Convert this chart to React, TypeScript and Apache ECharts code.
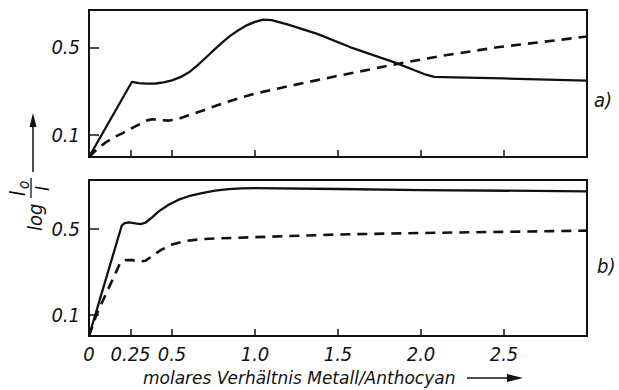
import React, { useEffect, useRef } from "react";
import * as echarts from "echarts";

// x values: molar ratio metal/anthocyan
const topSolidX = [0, 0.258, 0.3, 0.35, 0.4, 0.45, 0.5, 0.55, 0.6, 0.65, 0.7, 0.75, 0.8, 0.85, 0.9, 0.95, 1.0, 1.05, 1.1, 1.2, 1.375, 1.576, 1.84, 2.03, 2.08, 2.2, 2.5, 3.0];
const topSolidY = [0, 0.342, 0.337, 0.334, 0.335, 0.34, 0.349, 0.364, 0.385, 0.415, 0.45, 0.486, 0.52, 0.552, 0.578, 0.6, 0.616, 0.626, 0.624, 0.603, 0.561, 0.5, 0.431, 0.375, 0.365, 0.363, 0.358, 0.348];

const topDashX = [0, 0.05, 0.1, 0.15, 0.2, 0.25, 0.3, 0.35, 0.38, 0.42, 0.48, 0.53, 0.6, 0.7, 0.8, 0.9, 1.0, 1.16, 1.5, 1.85, 2.1, 2.46, 3.0];
const topDashY = [0, 0.037, 0.066, 0.09, 0.108, 0.128, 0.148, 0.167, 0.172, 0.169, 0.166, 0.172, 0.19, 0.216, 0.243, 0.267, 0.289, 0.316, 0.37, 0.423, 0.458, 0.5, 0.549];

const botSolidX = [0, 0.197, 0.215, 0.24, 0.28, 0.31, 0.34, 0.38, 0.42, 0.48, 0.54, 0.6, 0.68, 0.76, 0.84, 0.92, 1.0, 1.5, 2.0, 3.0];
const botSolidY = [0, 0.516, 0.528, 0.532, 0.527, 0.524, 0.53, 0.555, 0.583, 0.614, 0.638, 0.654, 0.669, 0.68, 0.687, 0.691, 0.692, 0.688, 0.683, 0.677];

const botDashX = [0, 0.045, 0.19, 0.22, 0.26, 0.3, 0.34, 0.4, 0.44, 0.5, 0.58, 0.68, 0.78, 0.98, 1.5, 2.0, 3.0];
const botDashY = [0, 0.1, 0.345, 0.355, 0.355, 0.348, 0.352, 0.385, 0.405, 0.428, 0.445, 0.453, 0.457, 0.462, 0.475, 0.482, 0.493];

const xTicks = [0.25, 0.5, 1.0, 1.5, 2.0, 2.5];
const xLabels = [0, 0.25, 0.5, 1.0, 1.5, 2.0, 2.5];
const yTicks = [0.1, 0.5];
const panelLabels = ["a)", "b)"];
const xTitle = "molares Verhältnis Metall/Anthocyan";

const INK = "#111";
const LABEL_FONT = '"Liberation Sans Narrow", "DejaVu Sans Condensed", sans-serif';

const zip = (xs: number[], ys: number[]) => xs.map((x, i) => [x, ys[i]]);

const fmtX = (v: number) => (v === 0 ? "0" : v === 0.25 ? "0.25" : v.toFixed(1));

export default function App() {
  const ref = useRef<HTMLDivElement>(null);
  useEffect(() => {
    if (!ref.current) return;
    const chart = echarts.init(ref.current, null, { renderer: "svg" });
    const xAxisBase = (gridIndex: number, showLabels: boolean) => ({
      type: "value",
      gridIndex,
      min: 0,
      max: 3.0,
      splitLine: { show: false },
      axisLine: { show: true, lineStyle: { color: INK, width: 2 } },
      axisTick: {
        show: true,
        inside: true,
        length: 7,
        customValues: xTicks,
        lineStyle: { color: INK, width: 1.5 },
      },
      axisLabel: {
        show: showLabels,
        customValues: xLabels,
        formatter: (v: number) => fmtX(v),
        color: INK,
        fontSize: 20,
        fontStyle: "italic",
        fontFamily: LABEL_FONT,
        margin: 8,
      },
    });
    const yAxisBase = (gridIndex: number, max: number) => ({
      type: "value",
      gridIndex,
      min: 0,
      max,
      splitLine: { show: false },
      axisLine: { show: true, lineStyle: { color: INK, width: 2 } },
      axisTick: {
        show: true,
        inside: true,
        length: 10,
        customValues: yTicks,
        lineStyle: { color: INK, width: 1.5 },
      },
      axisLabel: {
        show: true,
        customValues: yTicks,
        formatter: (v: number) => v.toFixed(1),
        color: INK,
        fontSize: 20,
        fontStyle: "italic",
        fontFamily: LABEL_FONT,
        margin: 9,
      },
    });
    const lineSeries = (idx: number, data: number[][], dashed: boolean) => ({
      type: "line",
      xAxisIndex: idx,
      yAxisIndex: idx,
      data,
      showSymbol: false,
      smooth: false,
      lineStyle: {
        color: INK,
        width: dashed ? 2.6 : 2.3,
        type: dashed ? [10, 7] : "solid",
        join: "round",
      },
    });
    const italic = (size: number, family = LABEL_FONT) => ({
      fontSize: size,
      fontStyle: "italic",
      fontFamily: family,
      fill: INK,
    });
    chart.setOption({
      animation: false,
      backgroundColor: "#fff",
      grid: [
        { left: 89, top: 10, width: 498, height: 147, show: true, borderColor: INK, borderWidth: 2 },
        { left: 89, top: 180, width: 498, height: 156, show: true, borderColor: INK, borderWidth: 2 },
      ],
      xAxis: [xAxisBase(0, false), xAxisBase(1, true)],
      yAxis: [yAxisBase(0, 0.67), yAxisBase(1, 0.73)],
      series: [
        lineSeries(0, zip(topSolidX, topSolidY), false),
        lineSeries(0, zip(topDashX, topDashY), true),
        lineSeries(1, zip(botSolidX, botSolidY), false),
        lineSeries(1, zip(botDashX, botDashY), true),
      ],
      graphic: [
        // panel labels
        { type: "text", x: 594, y: 100, style: { ...italic(20), text: panelLabels[0], verticalAlign: "middle" } },
        { type: "text", x: 597, y: 266, style: { ...italic(20), text: panelLabels[1], verticalAlign: "middle" } },
        // x-axis title with arrow
        {
          type: "text",
          x: 143,
          y: 378,
          style: { ...italic(17, '"DejaVu Sans", sans-serif'), text: xTitle, verticalAlign: "middle" },
        },
        { type: "line", shape: { x1: 467, y1: 378, x2: 510, y2: 378 }, style: { stroke: INK, lineWidth: 1.5 } },
        { type: "polygon", shape: { points: [[523, 378], [507, 374], [507, 382]] }, style: { fill: INK } },
        // y-axis title: arrow
        { type: "line", shape: { x1: 33, y1: 172, x2: 33, y2: 124 }, style: { stroke: INK, lineWidth: 1.5 } },
        { type: "polygon", shape: { points: [[33, 113], [29.5, 127], [36.5, 127]] }, style: { fill: INK } },
        // y-axis title: log I0/I (rotated)
        {
          type: "group",
          x: 31,
          y: 231,
          rotation: Math.PI / 2,
          children: [
            { type: "text", x: 0, y: 4, style: { ...italic(20), text: "log", verticalAlign: "middle" } },
            { type: "line", shape: { x1: 33, y1: 0, x2: 53, y2: 0 }, style: { stroke: INK, lineWidth: 1.3 } },
            { type: "text", x: 35, y: -13, style: { ...italic(21), text: "I", verticalAlign: "middle" } },
            { type: "text", x: 42, y: -7, style: { ...italic(15), text: "o", verticalAlign: "middle" } },
            { type: "text", x: 40, y: 11, style: { ...italic(19), text: "I", verticalAlign: "middle" } },
          ],
        },
      ],
    });
    return () => chart.dispose();
  }, []);
  return <div ref={ref} style={{ width: 619, height: 390, position: "absolute", left: 0, top: 0 }} />;
}
